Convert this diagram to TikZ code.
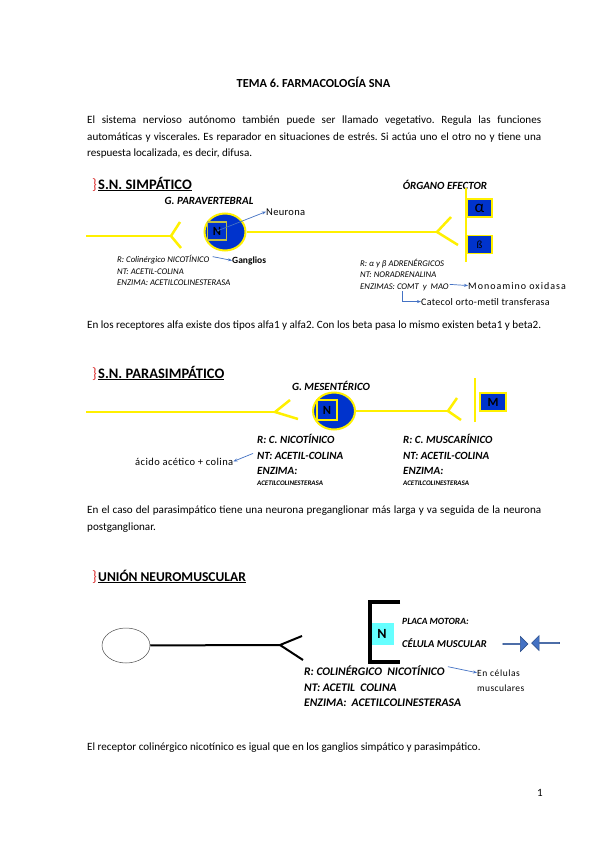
\documentclass[tikz,border=0pt]{standalone}
\usepackage{fontspec}
\setmainfont{Carlito}
\frenchspacing
\usetikzlibrary{arrows.meta, shapes.geometric, shapes.arrows}
\definecolor{amarillo}{RGB}{255,240,0}
\definecolor{azulN}{RGB}{0,51,204}
\definecolor{flecha}{RGB}{68,114,196}
\definecolor{bordeflecha}{RGB}{47,82,143}
\definecolor{cian}{RGB}{102,255,255}
\definecolor{oliva}{RGB}{190,190,70}
\definecolor{rojo}{RGB}{220,50,50}

\begin{document}
\begin{tikzpicture}[x=1pt, y=-1pt,
  txt/.style={anchor=base west, inner sep=0pt, font=\fontsize{11.1}{13}\selectfont},
  seccion/.style={anchor=base west, inner sep=0pt, font=\fontsize{14.5}{16}\selectfont\bfseries},
  llave/.style={anchor=base east, inner sep=0pt, text=rojo, font=\fontsize{15}{16}\selectfont},
  etiq/.style={anchor=base west, inner sep=0pt, font=\fontsize{8.7}{10}\selectfont\itshape},
  etiqb/.style={anchor=base west, inner sep=0pt, font=\fontsize{11}{12}\selectfont\bfseries\itshape},
  nota/.style={anchor=base west, inner sep=0pt, font=\fontsize{10}{12}\selectfont\addfontfeatures{LetterSpace=4}},
  nervio/.style={draw=amarillo, line width=2.5pt},
  neurona/.style={ellipse, draw=amarillo, line width=2pt, fill=azulN, inner sep=0pt},
  caja/.style={draw=amarillo, line width=1.2pt, fill=azulN, inner sep=0pt, font=\fontsize{12.5}{13}\selectfont\bfseries},
  aviso/.style={-{Stealth[length=4pt]}, draw=flecha, line width=0.7pt},
  bloque/.style={single arrow, draw=bordeflecha, fill=flecha, line width=0.6pt,
                 minimum width=15pt, single arrow head extend=3pt, inner sep=0pt}
]
  \fill[white] (0,0) rectangle (599,848);
  \useasboundingbox (0,0) rectangle (599,848);

  % cabecera y primer parrafo
  \node[anchor=base, inner sep=0pt, font=\fontsize{12.3}{14}\selectfont\bfseries] (tema) at (313.5,88) {TEMA 6. FARMACOLOGÍA SNA};
  \node[txt] (p1a) at (87,124) {\makebox[454pt][s]{El sistema nervioso autónomo también puede ser llamado vegetativo. Regula las funciones}};
  \node[txt] (p1b) at (87,140) {\makebox[454pt][s]{automáticas y viscerales. Es reparador en situaciones de estrés. Si actúa uno el otro no y tiene una}};
  \node[txt] (p1c) at (87,156) {respuesta localizada, es decir, difusa.};

  % S.N. simpatico
  \node[llave] (ll1) at (97,189) {\}};
  \node[seccion] (simp) at (98,189) {\underline{S.N. SIMPÁTICO}};
  \node[etiqb, anchor=base] (gpara) at (209,204) {G. PARAVERTEBRAL};
  \node[etiqb, anchor=base] (organo) at (445,189) {ÓRGANO EFECTOR};

  \coordinate (ini1) at (86,236);
  \coordinate (bif1) at (171,236);
  \node[neurona, minimum width=41pt, minimum height=37pt] (neu1) at (225,232) {};
  \node[caja, draw=oliva, minimum width=19pt, minimum height=18pt] (n1) at (217,231) {N};
  \coordinate (bif2) at (437,232);
  \coordinate (efa) at (466,188);
  \coordinate (efb) at (466,262);
  \draw[nervio] (ini1) -- (bif1);
  \draw[nervio] (180,222) -- (bif1) -- (181,248);
  \draw[nervio] (neu1) -- (bif2);
  \draw[nervio] (451,217) -- (bif2) -- (458,245);
  \draw[nervio] (efa) -- (efb);
  \node[caja, minimum width=25pt, minimum height=18pt, font=\fontsize{17}{18}\selectfont] (alfa) at (479.5,208) {α};
  \node[caja, minimum width=25pt, minimum height=18pt, font=\fontsize{11}{12}\selectfont] (beta) at (479.5,244.5) {ß};

  \node[nota, font=\fontsize{10.5}{12}\selectfont\addfontfeatures{LetterSpace=3}] (neur) at (266,215) {Neurona};
  \draw[aviso] (n1.center) -- (neur.west);
  \node[etiq] (rcol) at (117,262) {R: Colinérgico NICOTÍNICO};
  \node[etiq] (ntcol) at (117,274) {NT: ACETIL-COLINA};
  \node[etiq] (enz1) at (117,285) {ENZIMA: ACETILCOLINESTERASA};
  \node[nota, font=\fontsize{9.5}{11}\selectfont\bfseries] (gang) at (232,263) {Ganglios};
  \draw[aviso] (rcol.east) ++(3,-2.5) coordinate (rc) (rc) -- (gang.west);

  \node[etiq] (radr) at (360,266) {R: α y β ADRENÉRGICOS};
  \node[etiq] (ntnor) at (360,277) {NT: NORADRENALINA};
  \node[etiq] (enz2) at (360,289) {ENZIMAS: COMT\ \ y\ \ MAO};
  \node[nota, font=\fontsize{10}{12}\selectfont\addfontfeatures{LetterSpace=10}] (mono) at (468,289) {Monoamino oxidasa};
  \node[nota, font=\fontsize{10}{12}\selectfont\addfontfeatures{LetterSpace=3}] (cat) at (421,305) {Catecol orto-metil transferasa};
  \coordinate (comt) at (402,291);
  \draw[aviso] (enz2.east) ++(1,-2.5) coordinate (mao) (mao) -- (mono.west);
  \draw[aviso] (comt) |- (cat.west);

  \node[txt] (p2) at (87,328) {En los receptores alfa existe dos tipos alfa1 y alfa2. Con los beta pasa lo mismo existen beta1 y beta2.};

  % S.N. parasimpatico
  \node[llave] (ll2) at (97,378) {\}};
  \node[seccion] (para) at (98,378) {\underline{S.N. PARASIMPÁTICO}};
  \node[etiqb, anchor=base] (gmes) at (331,390) {G. MESENTÉRICO};
  \coordinate (ini3) at (86,412);
  \coordinate (bif3) at (275,412);
  \node[neurona, minimum width=42pt, minimum height=37pt] (neu2) at (334,411) {};
  \node[caja, minimum width=20pt, minimum height=20pt] (n2) at (327,410) {N};
  \coordinate (bif4) at (448,411);
  \coordinate (mua) at (475,378);
  \coordinate (mub) at (475,422);
  \draw[nervio] (ini3) -- (bif3);
  \draw[nervio] (290,400) -- (bif3) -- (298,419);
  \draw[nervio] (neu2) -- (bif4);
  \draw[nervio] (457,398) -- (bif4) -- (461,420);
  \draw[nervio] (mua) -- (mub);
  \node[caja, minimum width=26pt, minimum height=18pt] (m) at (493,402) {M};

  \node[etiqb] (rnic) at (257,443) {R: C. NICOTÍNICO};
  \node[etiqb] (ntac) at (257,459) {NT: ACETIL-COLINA};
  \node[etiqb] (enz3) at (257,474) {ENZIMA:};
  \node[etiqb, font=\fontsize{7}{8}\selectfont\bfseries\itshape] (ace3) at (257,485) {ACETILCOLINESTERASA};
  \node[etiqb] (rmus) at (403,443) {R: C. MUSCARÍNICO};
  \node[etiqb] (ntac2) at (403,459) {NT: ACETIL-COLINA};
  \node[etiqb] (enz4) at (403,474) {ENZIMA:};
  \node[etiqb, font=\fontsize{7}{8}\selectfont\bfseries\itshape] (ace4) at (403,485) {ACETILCOLINESTERASA};
  \node[nota, font=\fontsize{10.5}{12}\selectfont\addfontfeatures{LetterSpace=4}] (acido) at (135,465) {ácido acético + colina};
  \draw[aviso] (ntac.west) ++(-4,-2) coordinate (nt2w) (nt2w) -- (acido.east);

  \node[txt] (p3a) at (87,513) {\makebox[454pt][s]{En el caso del parasimpático tiene una neurona preganglionar más larga y va seguida de la neurona}};
  \node[txt] (p3b) at (87,530) {postganglionar.};

  % union neuromuscular
  \node[llave] (ll3) at (97,581) {\}};
  \node[seccion, font=\fontsize{13.5}{15}\selectfont\bfseries] (union) at (98,581) {\underline{UNIÓN NEUROMUSCULAR}};
  \node[ellipse, draw=black!70, line width=0.5pt, minimum width=48pt, minimum height=35pt] (cuerpo) at (126,645.5) {};
  \coordinate (bif5) at (280,645);
  \draw[line width=2pt] (cuerpo) -- (bif5);
  \draw[line width=2pt] (302,636) -- (bif5) -- (303,660);
  \node[draw=none, fill=cian, minimum width=23pt, minimum height=22pt, inner sep=0pt, font=\fontsize{14}{15}\selectfont\bfseries] (n3) at (382,634) {N};
  \draw[line width=4pt] (400,602) -- (370,602) -- (370,662) -- (400,662);
  \node[etiqb, font=\fontsize{9.5}{10}\selectfont\bfseries\itshape] (placa) at (402,624) {PLACA MOTORA:};
  \node[etiqb, font=\fontsize{10.5}{11}\selectfont\bfseries\itshape] (celm) at (402,647) {CÉLULA MUSCULAR};
  \node[bloque, minimum height=25pt] (fder) at (515,644) {};
  \node[bloque, minimum height=28pt, shape border rotate=180] (fizq) at (546,643) {};

  \node[etiqb, font=\fontsize{11.6}{13}\selectfont\bfseries\itshape] (rcol3) at (304,675) {R: COLINÉRGICO\ \ NICOTÍNICO};
  \node[etiqb, font=\fontsize{11.6}{13}\selectfont\bfseries\itshape] (nt3) at (304,691) {NT: ACETIL\ \ COLINA};
  \node[etiqb, font=\fontsize{11.6}{13}\selectfont\bfseries\itshape] (enz5) at (304,706) {ENZIMA:\ \ ACETILCOLINESTERASA};
  \node[nota, font=\fontsize{9.5}{10}\selectfont\addfontfeatures{LetterSpace=6}] (encel) at (477,676) {En células};
  \node[nota, font=\fontsize{9.5}{10}\selectfont\addfontfeatures{LetterSpace=4}] (musc) at (477,691) {musculares};
  \draw[aviso] (rcol3.east) ++(3,-3.5) coordinate (rc3) (rc3) -- (encel.west);

  \node[txt] (p4) at (87,750) {El receptor colinérgico nicotínico es igual que en los ganglios simpático y parasimpático.};
  \node[txt, anchor=base] (pag) at (540,796) {1};
\end{tikzpicture}
\end{document}
